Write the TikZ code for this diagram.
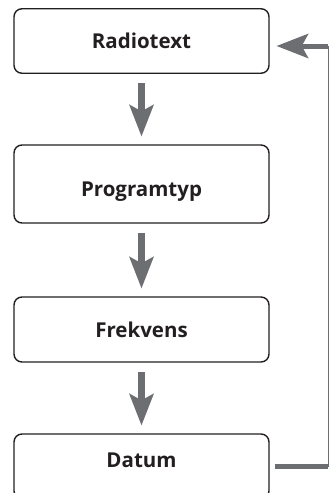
\documentclass[tikz,border=0pt]{standalone}
\usepackage{fontspec}
\setmainfont{Open Sans}
\usetikzlibrary{arrows.meta}
\definecolor{pilgra}{RGB}{109,110,113}
\definecolor{ram}{RGB}{35,31,32}
\begin{document}
\begin{tikzpicture}[x=1pt,y=-1pt,
 ruta/.style={draw=ram,line width=1.4pt,rounded corners=8pt,minimum width=255pt,text=ram,font=\bfseries\fontsize{20.5}{24}\selectfont},
 pilen/.style={draw=pilgra,line width=7pt,-{Stealth[length=32pt,width=25pt,inset=7pt,line width=0pt,fill=pilgra]}}]
\useasboundingbox (0,0) rectangle (329,493);
\path (141.5,41) node[ruta,minimum height=64.5pt] (R) {Radiotext}
 (141.5,184) node[ruta,minimum height=78pt,text height=29pt] (P) {Programtyp}
 (141.5,329.5) node[ruta,minimum height=65pt] (F) {Frekvens}
 (141.5,466.5) node[ruta,minimum height=65pt,text depth=12pt] (D) {Datum};
\foreach \a/\b in {R/P, P/F, F/D} \draw[pilen,shorten <=9pt,shorten >=8pt] (\a) -- (\b);
% tillbaka till toppen
\coordinate (k1) at (328,466.5);
\coordinate (k2) at (328,46);
\draw[pilen,line width=5pt,-,shorten <=5pt] (D.east) -- (k1);
\draw[pilgra,line width=1pt] (k1) -- (k2);
\draw[pilen,line width=5pt,shorten >=7pt] (k2) -- (R.east |- k2);
\end{tikzpicture}
\end{document}
